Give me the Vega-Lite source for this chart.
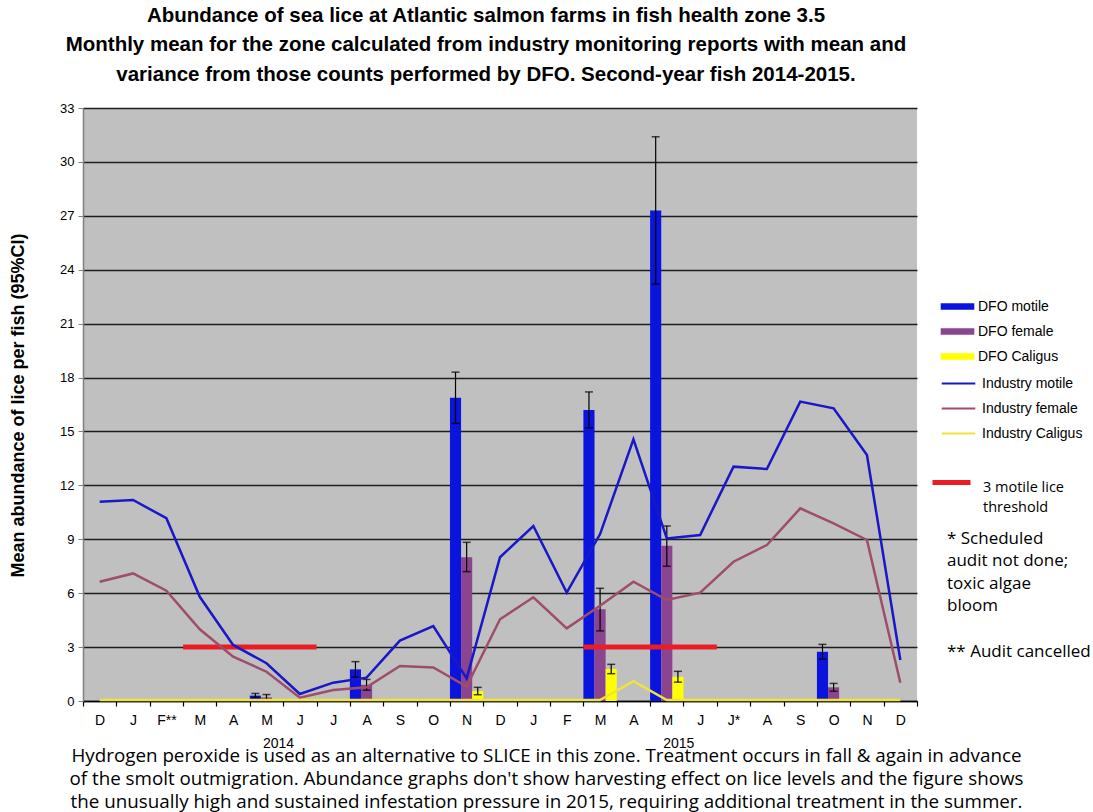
{
  "$schema": "https://vega.github.io/schema/vega-lite/v6.json",
  "width": 834,
  "height": 593,
  "autosize": {"type": "none"},
  "padding": {"left": 83, "top": 108, "right": 176, "bottom": 111},
  "background": "white",
  "view": {"fill": "#c0c0c0", "stroke": null},
  "title": {
    "text": ["Abundance of sea lice at Atlantic  salmon farms in fish health zone 3.5", "Monthly mean for the zone calculated from industry monitoring reports with mean and", "variance from those counts performed by DFO. Second-year fish 2014-2015."],
    "font": "Liberation Sans", "fontSize": 20.5, "fontWeight": "bold", "lineHeight": 29.5, "anchor": "middle", "dx": -14, "offset": 17, "color": "black"
  },
  "config": {
    "axis": {"labelFont": "Liberation Sans", "titleFont": "Liberation Sans", "labelColor": "black", "titleColor": "black"},
    "legend": {"padding": 0, "titlePadding": 0}
  },
  "datasets": {
    "dfo": [
      {"month": "2014-05", "series": "DFO motile", "value": 0.3, "lo": 0.2, "hi": 0.42},
      {"month": "2014-05", "series": "DFO female", "value": 0.2, "lo": 0.06, "hi": 0.36},
      {"month": "2014-08", "series": "DFO motile", "value": 1.76, "lo": 1.33, "hi": 2.19},
      {"month": "2014-08", "series": "DFO female", "value": 0.9, "lo": 0.6, "hi": 1.2},
      {"month": "2014-11", "series": "DFO motile", "value": 16.88, "lo": 15.45, "hi": 18.3},
      {"month": "2014-11", "series": "DFO female", "value": 8.0, "lo": 7.2, "hi": 8.83},
      {"month": "2014-11", "series": "DFO Caligus", "value": 0.55, "lo": 0.35, "hi": 0.76},
      {"month": "2015-03", "series": "DFO motile", "value": 16.19, "lo": 15.2, "hi": 17.2},
      {"month": "2015-03", "series": "DFO female", "value": 5.1, "lo": 3.9, "hi": 6.27},
      {"month": "2015-03", "series": "DFO Caligus", "value": 1.78, "lo": 1.52, "hi": 2.04},
      {"month": "2015-05", "series": "DFO motile", "value": 27.3, "lo": 23.2, "hi": 31.4},
      {"month": "2015-05", "series": "DFO female", "value": 8.64, "lo": 7.5, "hi": 9.74},
      {"month": "2015-05", "series": "DFO Caligus", "value": 1.35, "lo": 1.05, "hi": 1.65},
      {"month": "2015-10", "series": "DFO motile", "value": 2.74, "lo": 2.33, "hi": 3.15},
      {"month": "2015-10", "series": "DFO female", "value": 0.76, "lo": 0.54, "hi": 0.98}
    ],
    "industry": [
      {"month": "2013-12", "series": "Industry motile", "value": 11.09},
      {"month": "2014-01", "series": "Industry motile", "value": 11.19},
      {"month": "2014-02", "series": "Industry motile", "value": 10.17},
      {"month": "2014-03", "series": "Industry motile", "value": 5.8},
      {"month": "2014-04", "series": "Industry motile", "value": 3.12},
      {"month": "2014-05", "series": "Industry motile", "value": 2.1},
      {"month": "2014-06", "series": "Industry motile", "value": 0.39},
      {"month": "2014-07", "series": "Industry motile", "value": 1.02},
      {"month": "2014-08", "series": "Industry motile", "value": 1.3},
      {"month": "2014-09", "series": "Industry motile", "value": 3.36},
      {"month": "2014-10", "series": "Industry motile", "value": 4.17},
      {"month": "2014-11", "series": "Industry motile", "value": 1.26},
      {"month": "2014-12", "series": "Industry motile", "value": 8.0},
      {"month": "2015-01", "series": "Industry motile", "value": 9.74},
      {"month": "2015-02", "series": "Industry motile", "value": 6.03},
      {"month": "2015-03", "series": "Industry motile", "value": 9.29},
      {"month": "2015-04", "series": "Industry motile", "value": 14.56},
      {"month": "2015-05", "series": "Industry motile", "value": 9.05},
      {"month": "2015-06", "series": "Industry motile", "value": 9.24},
      {"month": "2015-07", "series": "Industry motile", "value": 13.04},
      {"month": "2015-08", "series": "Industry motile", "value": 12.91},
      {"month": "2015-09", "series": "Industry motile", "value": 16.66},
      {"month": "2015-10", "series": "Industry motile", "value": 16.29},
      {"month": "2015-11", "series": "Industry motile", "value": 13.69},
      {"month": "2015-12", "series": "Industry motile", "value": 2.28},
      {"month": "2013-12", "series": "Industry female", "value": 6.64},
      {"month": "2014-01", "series": "Industry female", "value": 7.1},
      {"month": "2014-02", "series": "Industry female", "value": 6.14},
      {"month": "2014-03", "series": "Industry female", "value": 3.99},
      {"month": "2014-04", "series": "Industry female", "value": 2.47},
      {"month": "2014-05", "series": "Industry female", "value": 1.63},
      {"month": "2014-06", "series": "Industry female", "value": 0.18},
      {"month": "2014-07", "series": "Industry female", "value": 0.61},
      {"month": "2014-08", "series": "Industry female", "value": 0.76},
      {"month": "2014-09", "series": "Industry female", "value": 1.95},
      {"month": "2014-10", "series": "Industry female", "value": 1.87},
      {"month": "2014-11", "series": "Industry female", "value": 0.8},
      {"month": "2014-12", "series": "Industry female", "value": 4.55},
      {"month": "2015-01", "series": "Industry female", "value": 5.77},
      {"month": "2015-02", "series": "Industry female", "value": 4.04},
      {"month": "2015-03", "series": "Industry female", "value": 5.3},
      {"month": "2015-04", "series": "Industry female", "value": 6.64},
      {"month": "2015-05", "series": "Industry female", "value": 5.62},
      {"month": "2015-06", "series": "Industry female", "value": 6.03},
      {"month": "2015-07", "series": "Industry female", "value": 7.75},
      {"month": "2015-08", "series": "Industry female", "value": 8.68},
      {"month": "2015-09", "series": "Industry female", "value": 10.72},
      {"month": "2015-10", "series": "Industry female", "value": 9.89},
      {"month": "2015-11", "series": "Industry female", "value": 8.96},
      {"month": "2015-12", "series": "Industry female", "value": 1.02},
      {"month": "2013-12", "series": "Industry Caligus", "value": 0.05},
      {"month": "2014-01", "series": "Industry Caligus", "value": 0.05},
      {"month": "2014-02", "series": "Industry Caligus", "value": 0.05},
      {"month": "2014-03", "series": "Industry Caligus", "value": 0.05},
      {"month": "2014-04", "series": "Industry Caligus", "value": 0.05},
      {"month": "2014-05", "series": "Industry Caligus", "value": 0.05},
      {"month": "2014-06", "series": "Industry Caligus", "value": 0.05},
      {"month": "2014-07", "series": "Industry Caligus", "value": 0.05},
      {"month": "2014-08", "series": "Industry Caligus", "value": 0.05},
      {"month": "2014-09", "series": "Industry Caligus", "value": 0.05},
      {"month": "2014-10", "series": "Industry Caligus", "value": 0.05},
      {"month": "2014-11", "series": "Industry Caligus", "value": 0.05},
      {"month": "2014-12", "series": "Industry Caligus", "value": 0.05},
      {"month": "2015-01", "series": "Industry Caligus", "value": 0.05},
      {"month": "2015-02", "series": "Industry Caligus", "value": 0.05},
      {"month": "2015-03", "series": "Industry Caligus", "value": 0.05},
      {"month": "2015-04", "series": "Industry Caligus", "value": 1.1},
      {"month": "2015-05", "series": "Industry Caligus", "value": 0.05},
      {"month": "2015-06", "series": "Industry Caligus", "value": 0.05},
      {"month": "2015-07", "series": "Industry Caligus", "value": 0.05},
      {"month": "2015-08", "series": "Industry Caligus", "value": 0.05},
      {"month": "2015-09", "series": "Industry Caligus", "value": 0.05},
      {"month": "2015-10", "series": "Industry Caligus", "value": 0.05},
      {"month": "2015-11", "series": "Industry Caligus", "value": 0.05},
      {"month": "2015-12", "series": "Industry Caligus", "value": 0.05}
    ],
    "threshold": [
      {"start": "2014-03", "end": "2014-06", "value": 3, "label": "3 motile lice threshold"},
      {"start": "2015-03", "end": "2015-06", "value": 3, "label": "3 motile lice threshold"}
    ],
    "years": [
      {"month": "2014-05", "year": "2014"},
      {"month": "2015-05", "year": "2015"}
    ],
    "notes": [
      {"note": "* Scheduled"},
      {"note": "audit not done;"},
      {"note": "toxic algae"},
      {"note": "bloom"},
      {"note": " "},
      {"note": "** Audit cancelled"}
    ]
  },
  "layer": [
    {
      "data": {"name": "dfo"},
      "mark": {"type": "bar"},
      "encoding": {
        "x": {
          "field": "month", "type": "ordinal",
          "scale": {"domain": ["2013-12","2014-01","2014-02","2014-03","2014-04","2014-05","2014-06","2014-07","2014-08","2014-09","2014-10","2014-11","2014-12","2015-01","2015-02","2015-03","2015-04","2015-05","2015-06","2015-07","2015-08","2015-09","2015-10","2015-11","2015-12"], "paddingInner": 0, "paddingOuter": 0},
          "axis": {
            "title": ["Hydrogen peroxide is used as an alternative to SLICE in this zone. Treatment occurs in fall & again in advance", "of the smolt outmigration. Abundance graphs don't show harvesting effect on lice levels and the figure shows", "the unusually high and sustained infestation pressure in 2015, requiring additional treatment in the summer."],
            "titleFont": "Open Sans", "titleFontSize": 18.8, "titleFontWeight": "normal", "titleLineHeight": 23,
            "titleX": 463, "titleY": 45,
            "labelExpr": "isString(datum.value) ? (datum.value == '2014-02' ? 'F**' : datum.value == '2015-07' ? 'J*' : ['J','F','M','A','M','J','J','A','S','O','N','D'][toNumber(slice(datum.value, 5)) - 1]) : ''",
            "labelAngle": 0, "labelFontSize": 14, "labelPadding": 7, "tickBand": "extent", "tickSize": 5, "tickColor": "black", "tickWidth": 1.2,
            "domainColor": "black", "domainWidth": 1.5, "grid": false,
            "encode": {"ticks": {"update": {"y": {"value": -4}}}}
          }
        },
        "xOffset": {"field": "series", "type": "nominal", "scale": {"domain": ["DFO motile", "DFO female", "DFO Caligus"], "paddingInner": 0, "paddingOuter": 0}},
        "y": {
          "field": "value", "type": "quantitative",
          "scale": {"domain": [0, 33], "nice": false},
          "axis": {
            "title": "Mean abundance of lice per fish (95%CI)", "titleFontSize": 18, "titleFontWeight": "bold",
            "titleX": -65, "titleY": 297, "titleBaseline": "middle",
            "values": [0, 3, 6, 9, 12, 15, 18, 21, 24, 27, 30, 33], "labelFontSize": 13, "labelPadding": 4,
            "tickSize": 5, "tickColor": "#808080", "domainColor": "#808080", "domainWidth": 1.5,
            "grid": true, "gridColor": "#1e1e1e", "gridWidth": 1.5, "gridOpacity": 1
          }
        },
        "fill": {
          "field": "series", "type": "nominal",
          "scale": {"domain": ["DFO motile", "DFO female", "DFO Caligus"], "range": ["#0a14dc", "#8a4490", "#ffff00"]},
          "legend": {"orient": "none", "legendX": 864, "legendY": 188, "title": null, "symbolType": "M-1.6,-0.3H1.6V0.3H-1.6Z", "symbolSize": 441, "symbolStrokeWidth": 0, "labelFont": "Liberation Sans", "labelFontSize": 14, "labelOffset": 10, "rowPadding": 7, "labelColor": "black"}
        }
      }
    },
    {
      "data": {"name": "dfo"},
      "mark": {"type": "rule", "color": "black", "strokeWidth": 1.2},
      "encoding": {
        "x": {"field": "month", "type": "ordinal"},
        "xOffset": {"field": "series", "type": "nominal"},
        "y": {"field": "lo", "type": "quantitative"},
        "y2": {"field": "hi"}
      }
    },
    {
      "data": {"name": "dfo"},
      "mark": {"type": "tick", "color": "black", "thickness": 1.5, "size": 8},
      "encoding": {
        "x": {"field": "month", "type": "ordinal"},
        "xOffset": {"field": "series", "type": "nominal"},
        "y": {"field": "hi", "type": "quantitative"}
      }
    },
    {
      "data": {"name": "dfo"},
      "mark": {"type": "tick", "color": "black", "thickness": 1.5, "size": 8},
      "encoding": {
        "x": {"field": "month", "type": "ordinal"},
        "xOffset": {"field": "series", "type": "nominal"},
        "y": {"field": "lo", "type": "quantitative"}
      }
    },
    {
      "data": {"name": "threshold"},
      "mark": {"type": "rule", "color": "#ec1c24", "strokeWidth": 5},
      "encoding": {
        "x": {"field": "start", "type": "ordinal", "bandPosition": 0},
        "x2": {"field": "end", "bandPosition": 1},
        "y": {"field": "value", "type": "quantitative"},
        "strokeDash": {
          "field": "label", "type": "nominal", "scale": {"range": [[1, 0]]},
          "legend": {"orient": "none", "legendX": 847, "legendY": 353, "title": null, "symbolType": "stroke", "symbolSize": 1444, "symbolStrokeWidth": 5, "symbolStrokeColor": "#ec1c24", "labelFont": "Open Sans", "labelFontSize": 14.5, "labelOffset": 10, "labelBaseline": "top", "labelColor": "black",
            "labelExpr": "['3 motile lice', 'threshold']",
            "encode": {"labels": {"update": {"lineHeight": {"value": 20}, "dy": {"value": -2}}}}}
        }
      }
    },
    {
      "data": {"name": "industry"},
      "mark": {"type": "line", "strokeWidth": 2.5},
      "encoding": {
        "x": {"field": "month", "type": "ordinal"},
        "y": {"field": "value", "type": "quantitative"},
        "stroke": {
          "field": "series", "type": "nominal",
          "scale": {"domain": ["Industry motile", "Industry female", "Industry Caligus"], "range": ["#1818c8", "#9e4d6b", "#eee43a"]},
          "legend": {"orient": "none", "legendX": 864, "legendY": 264, "title": null, "symbolType": "M-1.6,0H1.6", "symbolSize": 441, "symbolStrokeWidth": 2, "labelFont": "Liberation Sans", "labelFontSize": 14, "labelOffset": 12, "rowPadding": 6, "labelColor": "black"}
        }
      }
    },
    {
      "data": {"name": "years"},
      "mark": {"type": "text", "font": "Liberation Sans", "fontSize": 14, "dx": 12, "baseline": "middle", "color": "black"},
      "encoding": {
        "x": {"field": "month", "type": "ordinal"},
        "y": {"datum": -2.4, "type": "quantitative"},
        "text": {"field": "year"}
      }
    },
    {
      "data": {"name": "notes"},
      "mark": {"type": "point", "opacity": 0},
      "encoding": {
        "shape": {
          "field": "note", "type": "nominal",
          "scale": {"domain": ["* Scheduled", "audit not done;", "toxic algae", "bloom", " ", "** Audit cancelled"]},
          "legend": {"orient": "none", "legendX": 847, "legendY": 422, "title": null, "symbolSize": 1, "symbolOpacity": 0, "labelOffset": 0, "labelFont": "Open Sans", "labelFontSize": 17, "labelColor": "black", "rowPadding": 4.6, "labelLimit": 300}
        }
      }
    }
  ]
}
